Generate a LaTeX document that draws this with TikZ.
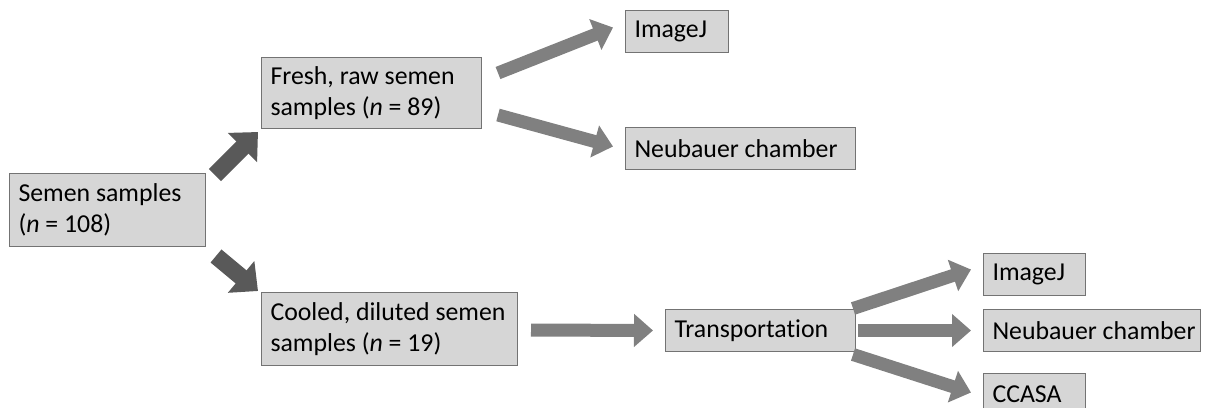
\documentclass[tikz,border=0pt]{standalone}
\usepackage{fontspec}
\setmainfont{Carlito}[Ligatures=NoCommon]
\usetikzlibrary{arrows.meta,calc}
\begin{document}
\begin{tikzpicture}[x=1pt,y=-1pt,
  box/.style={draw=black!55,line width=1pt,fill=black!16,anchor=north west,
    inner sep=0pt,align=flush left,font=\fontsize{25.8}{30.5}\selectfont},
  darrow/.style={draw=black!65,line width=17pt,-{Triangle[length=22pt,width=40pt]}},
  larrow/.style={draw=black!50,line width=13pt,-{Triangle[length=19pt,width=32pt]}}]
\useasboundingbox (0,0) rectangle (1209,407);
% boxes
\node[box,minimum width=196pt,minimum height=73pt,text width=178pt] (semen) at (9,173) {\mbox{Semen samples}\\\mbox{(\textit{n} = 108)}};
\node[box,minimum width=220pt,minimum height=71pt,text width=202pt] (fresh) at (261,57) {\mbox{Fresh, raw semen}\\\mbox{samples (\textit{n} = 89)}};
\node[box,minimum width=103pt,minimum height=42pt,text width=85pt] (img1) at (625,10) {\mbox{ImageJ}};
\node[box,minimum width=230pt,minimum height=42pt,text width=212pt] (neu1) at (625,127) {\mbox{Neubauer chamber}};
\node[box,minimum width=256pt,minimum height=73pt,text width=238pt] (cool) at (261,292) {\mbox{Cooled, diluted semen}\\\mbox{samples (\textit{n} = 19)}};
\node[box,minimum width=190pt,minimum height=42pt,text width=172pt] (trans) at (665,309) {\mbox{Transportation}};
\node[box,minimum width=102pt,minimum height=42pt,text width=84pt] (img2) at (983,253) {\mbox{ImageJ}};
\node[box,minimum width=217pt,minimum height=42pt,text width=199pt] (neu2) at (983,309) {\mbox{Neubauer chamber}};
\node[box,minimum width=102pt,minimum height=42pt,text width=84pt] (ccasa) at (983,373) {\mbox{CCASA}};
% arrows
\draw[darrow] ($(semen.north east)+(9,2)$) -- ($(fresh.south west)+(-3,3)$);
\draw[darrow] ($(semen.south east)+(10,9)$) -- ($(cool.north west)+(-3,-1)$);
\draw[larrow] ($(fresh.east)+(16,-20)$) -- ($(img1.west)+(-12,-4)$);
\draw[larrow] ($(fresh.east)+(16,22)$) -- ($(neu1.west)+(-12,-2)$);
\draw[larrow] ($(cool.east)+(13,1)$) -- ($(trans.west)+(-12,0)$);
\draw[larrow] ($(trans.east)+(-3,-22)$) -- ($(img2.west)+(-12,-5)$);
\draw[larrow] ($(trans.east)+(2,0)$) -- ($(neu2.west)+(-12,0)$);
\draw[larrow] ($(trans.east)+(-3,24)$) -- ($(ccasa.west)+(-12,-2)$);
\end{tikzpicture}
\end{document}
